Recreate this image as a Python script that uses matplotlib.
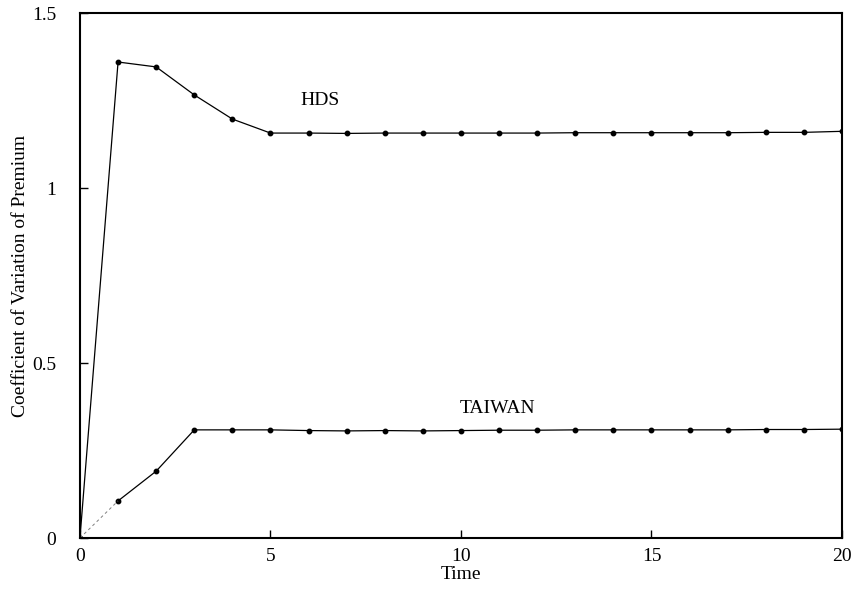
import numpy as np
import matplotlib.pyplot as plt

plt.rcParams['font.family'] = ['Liberation Serif', 'DejaVu Serif']

time = list(range(21))
hds = [0, 1.36, 1.346, 1.266, 1.197, 1.157, 1.157, 1.156, 1.157, 1.157, 1.157,
       1.157, 1.157, 1.158, 1.158, 1.158, 1.158, 1.158, 1.159, 1.159, 1.162]
taiwan = [0, 0.106, 0.191, 0.309, 0.309, 0.309, 0.307, 0.306, 0.307, 0.306, 0.307,
          0.308, 0.308, 0.309, 0.309, 0.309, 0.309, 0.309, 0.310, 0.310, 0.311]

fig = plt.figure(figsize=(8.57, 5.97), dpi=100)
ax = fig.add_axes([0.0933, 0.0988, 0.8892, 0.8794])

ax.plot(time, hds, color='black', lw=0.9, marker='o', ms=3.2)
ax.plot(time[1:], taiwan[1:], color='black', lw=0.9, marker='o', ms=3.2)
ax.plot(time[:2], taiwan[:2], color='gray', lw=0.7, ls=(0, (3, 3)))

ax.text(6.3, 1.25, 'HDS', fontsize=14, ha='center', va='center')
ax.text(10.95, 0.371, 'TAIWAN', fontsize=14, ha='center', va='center')

ax.set_xlim(0, 20)
ax.set_ylim(0, 1.5)
ax.set_xticks([0, 5, 10, 15, 20])
ax.set_yticks([0, 0.5, 1, 1.5])
ax.set_yticklabels(['0', '0.5', '1', '1.5'])
ax.tick_params(direction='in', labelsize=14, length=6, width=1)
ax.tick_params(axis='y', pad=17)
ax.tick_params(axis='x', pad=7)
ax.set_xlabel('Time', fontsize=14, labelpad=1)
ax.set_ylabel('Coefficient of Variation of Premium', fontsize=14, labelpad=2)
for s in ax.spines.values():
    s.set_linewidth(1.5)

fig.savefig('out.png', dpi=100)
